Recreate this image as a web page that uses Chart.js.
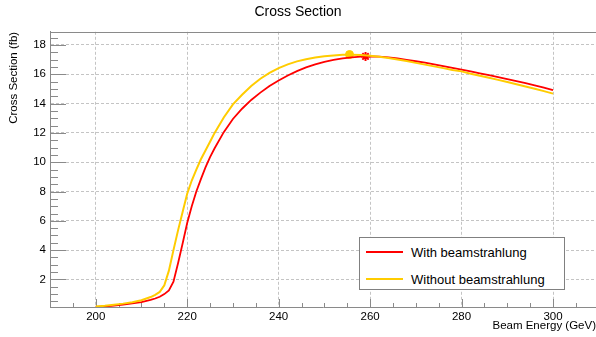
<!DOCTYPE html>
<html lang="en">
<head>
  <meta charset="UTF-8" />
  <title>Cross Section</title>
  <script src="https://cdn.jsdelivr.net/npm/chart.js"></script>
  <style>
    body { margin: 0; background: #fff; }
    #wrap { position: relative; width: 596px; height: 337px; }
    #legend {
      position: absolute; left: 359px; top: 237px; width: 204px; height: 51px;
      border: 1px solid #808080; background: #fff;
      font-family: "Liberation Sans", Arial, sans-serif; font-size: 13px; color: #000;
    }
    .item { position: absolute; left: 6px; height: 16px; display: flex; align-items: center; }
    .swatch { width: 37px; height: 0; border-top: 2px solid; margin-right: 8px; }
  </style>
</head>
<body>
  <div id="wrap">
    <canvas id="xsec" width="596" height="337"></canvas>
    <div id="legend"></div>
  </div>

  <script>
    // Beam energy (GeV)
    const energy = [200, 202, 204, 206, 208, 210, 212, 213, 214, 215, 216, 217, 218, 219, 220,
      221, 222, 223, 224, 225, 226, 228, 230, 232, 234, 236, 238, 240, 242, 244, 246, 248,
      250, 252, 254, 256, 258, 260, 262, 264, 266, 268, 270, 272, 274, 276, 278, 280, 282,
      284, 286, 288, 290, 292, 294, 296, 298, 300];

    // cross section (fb)
    const withBeamstrahlung = [0.12, 0.16, 0.21, 0.28, 0.36, 0.46, 0.6, 0.7, 0.82, 1.0, 1.25,
      1.85, 3.1, 4.45, 5.85, 7.0, 8.0, 8.85, 9.65, 10.35, 10.95, 12.05, 12.95, 13.65, 14.25,
      14.75, 15.2, 15.58, 15.92, 16.22, 16.47, 16.68, 16.85, 16.98, 17.08, 17.15, 17.2, 17.22,
      17.2, 17.15, 17.08, 16.99, 16.89, 16.79, 16.68, 16.56, 16.44, 16.32, 16.2, 16.07, 15.94,
      15.81, 15.67, 15.53, 15.39, 15.24, 15.09, 14.92];

    const withoutBeamstrahlung = [0.15, 0.2, 0.27, 0.35, 0.45, 0.58, 0.8, 0.95, 1.15, 1.6, 2.6,
      4.0, 5.35, 6.6, 7.85, 8.75, 9.5, 10.2, 10.8, 11.4, 12.0, 13.05, 13.95, 14.6, 15.2, 15.7,
      16.1, 16.42, 16.68, 16.88, 17.03, 17.14, 17.23, 17.29, 17.33, 17.34, 17.31, 17.26, 17.19,
      17.11, 17.01, 16.9, 16.78, 16.66, 16.54, 16.42, 16.3, 16.2, 16.04, 15.9, 15.76, 15.62,
      15.47, 15.32, 15.17, 15.01, 14.85, 14.68];

    // maxima markers
    const peakWith = { x: 259, y: 17.22 };
    const peakWithout = { x: 255.5, y: 17.35 };

    // axis ranges / ticks
    const xMin = 190, xMax = 309.4, xMajor = 20, xMinor = 5;
    const yMin = 0.12, yMax = 18.9, yMajor = 2, yMinor = 0.5;

    const RED = '#ff0000';
    const YELLOW = '#ffcc00';
    const AXIS = '#8a8a8a';
    const GRID = '#c4c4c4';

    Chart.defaults.font.family = '"Liberation Sans", Arial, sans-serif';
    Chart.defaults.color = '#000';

    const toPoints = (ys) => energy.map((e, i) => ({ x: e, y: ys[i] }));

    // ROOT style ticks pointing into the frame + top frame line
    const innerTicks = {
      id: 'innerTicks',
      beforeDatasetsDraw(chart) {
        const { ctx, chartArea: a, scales: { x, y } } = chart;
        ctx.save();
        ctx.strokeStyle = AXIS;
        ctx.lineWidth = 1;
        ctx.beginPath();
        ctx.moveTo(a.left, Math.round(a.top) + 0.5);
        ctx.lineTo(a.right, Math.round(a.top) + 0.5);
        for (let v = Math.ceil(x.min / xMinor) * xMinor; v <= x.max; v += xMinor) {
          const px = Math.round(x.getPixelForValue(v)) + 0.5;
          const len = v % xMajor === 0 ? 8 : 4;
          ctx.moveTo(px, a.bottom);
          ctx.lineTo(px, a.bottom - len);
        }
        for (let v = Math.ceil(y.min / yMinor) * yMinor; v <= y.max; v += yMinor) {
          const py = Math.round(y.getPixelForValue(v)) + 0.5;
          const len = v % yMajor === 0 ? 16 : 8;
          ctx.moveTo(a.left, py);
          ctx.lineTo(a.left + len, py);
        }
        ctx.stroke();
        ctx.restore();
      }
    };

    const chart = new Chart(document.getElementById('xsec'), {
      type: 'line',
      data: {
        datasets: [
          {
            label: 'Without beamstrahlung',
            data: toPoints(withoutBeamstrahlung),
            borderColor: YELLOW,
            backgroundColor: YELLOW,
            borderWidth: 2,
            pointRadius: 0,
            tension: 0,
          },
          {
            label: 'With beamstrahlung',
            data: toPoints(withBeamstrahlung),
            borderColor: RED,
            backgroundColor: RED,
            borderWidth: 1.8,
            pointRadius: 0,
            tension: 0,
          },
          {
            label: 'peak without',
            data: [peakWithout],
            showLine: false,
            pointStyle: 'circle',
            pointRadius: 4,
            backgroundColor: YELLOW,
            borderColor: YELLOW,
          },
          {
            label: 'peak with',
            data: [peakWith],
            showLine: false,
            pointStyle: 'star',
            pointRadius: 4.5,
            borderWidth: 2,
            backgroundColor: RED,
            borderColor: RED,
          },
        ],
      },
      options: {
        responsive: false,
        animation: false,
        devicePixelRatio: 1,
        layout: { padding: 0, autoPadding: false },
        plugins: {
          legend: { display: false },
          tooltip: { enabled: false },
          title: {
            display: true,
            text: 'Cross Section',
            font: { size: 14, weight: 'normal', lineHeight: 1.2 },
            color: '#000',
            padding: { top: 4, bottom: 11 },
          },
        },
        scales: {
          x: {
            type: 'linear',
            min: xMin,
            max: xMax,
            afterFit: (s) => { s.height = 30; s.paddingLeft = 0; s.paddingRight = 0; },
            ticks: { stepSize: xMajor, includeBounds: false, maxRotation: 0, padding: 3, font: { size: 11.5 } },
            grid: { color: GRID, drawTicks: false, lineWidth: 1 },
            border: { color: AXIS, dash: [3, 2] },
            title: {
              display: true,
              text: 'Beam Energy (GeV)',
              align: 'end',
              font: { size: 11.5 },
              padding: { top: 0, bottom: 4 },
            },
          },
          y: {
            min: yMin,
            max: yMax,
            afterFit: (s) => { s.width = 50; s.paddingTop = 0; s.paddingBottom = 0; },
            ticks: { stepSize: yMajor, includeBounds: false, padding: 4, font: { size: 11.5 } },
            grid: { color: GRID, drawTicks: false, lineWidth: 1 },
            border: { color: AXIS, dash: [3, 2] },
            title: {
              display: true,
              text: 'Cross Section (fb)',
              align: 'end',
              font: { size: 11.5 },
              padding: { top: 7, bottom: 0 },
            },
          },
        },
      },
      plugins: [innerTicks],
    });

    // legend box (ROOT TLegend look), built from the datasets
    const legendEl = document.getElementById('legend');
    [chart.data.datasets[1], chart.data.datasets[0]].forEach((ds, i) => {
      const item = document.createElement('div');
      item.className = 'item';
      item.style.top = (6 + i * 27) + 'px';
      const sw = document.createElement('span');
      sw.className = 'swatch';
      sw.style.borderColor = ds.borderColor;
      const txt = document.createElement('span');
      txt.textContent = ds.label;
      item.appendChild(sw);
      item.appendChild(txt);
      legendEl.appendChild(item);
    });
  </script>
</body>
</html>
